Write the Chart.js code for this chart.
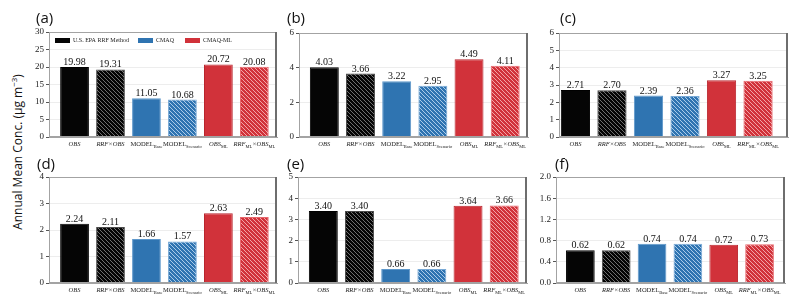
<!DOCTYPE html>
<html>
<head>
<meta charset="utf-8">
<script src="https://cdn.jsdelivr.net/npm/chart.js@4.4.1/dist/chart.umd.min.js"></script>
<style>
  body { margin: 0; background: #fff; }
  #fig { position: relative; width: 800px; height: 303px; overflow: hidden; }
  #fig canvas { position: absolute; }
  .tag { position: absolute; font-family: "Open Sans", sans-serif; font-size: 15px; line-height: 15px; color: #111; }
  #ytitle {
    position: absolute; left: -82px; top: 144px; width: 200px; height: 16px;
    font-family: "Open Sans", sans-serif; font-size: 12px; line-height: 16px; color: #111;
    text-align: center; transform: rotate(-90deg); white-space: nowrap;
  }
  #ytitle sup { font-size: 8px; line-height: 0; }
</style>
</head>
<body>
<div id="fig">
  <div id="ytitle">Annual Mean Conc. (μg m<sup>−3</sup>)</div>
</div>
<script>
// category names, "_{...}" marks a subscript
const categories = ['OBS', 'RRF×OBS', 'MODEL_{Base}', 'MODEL_{Scenario}', 'OBS_{ML}', 'RRF_{ML}×OBS_{ML}'];
const italicCats = [true, true, false, false, true, true];
const groups = ['U.S. EPA RRF Method', 'CMAQ', 'CMAQ-ML'];

// values per panel
const valuesA = [19.98, 19.31, 11.05, 10.68, 20.72, 20.08];
const valuesB = [4.03, 3.66, 3.22, 2.95, 4.49, 4.11];
const valuesC = [2.71, 2.70, 2.39, 2.36, 3.27, 3.25];
const valuesD = [2.24, 2.11, 1.66, 1.57, 2.63, 2.49];
const valuesE = [3.40, 3.40, 0.66, 0.66, 3.64, 3.66];
const valuesF = [0.62, 0.62, 0.74, 0.74, 0.72, 0.73];

// y tick labels per panel
const ticksA = [0, 5, 10, 15, 20, 25, 30];
const ticksB = [0, 2, 4, 6];
const ticksC = [0, 1, 2, 3, 4, 5, 6];
const ticksD = [0, 1, 2, 3, 4];
const ticksE = [0, 1, 2, 3, 4, 5];
const ticksF = [0, 0.4, 0.8, 1.2, 1.6, 2.0];

const groupColors = ['#050505', '#2f74b1', '#d1323a'];
const hatchColors = ['#6f6f6f', '#a9cbea', '#f3a3a6'];
const edgeColors = ['#000000', '#4a4a4a', '#5e98cb', '#78a9d6', '#b9262e', '#e8666b'];
const SERIF = '"Liberation Serif", "Times New Roman", serif';

Chart.defaults.font.family = SERIF;

const YW = 24, PT = 10, PR = 4, XH = 16;

function makeHatch(base, line) {
    const c = document.createElement('canvas');
    c.width = 4; c.height = 4;
    const g = c.getContext('2d');
    g.fillStyle = base;
    g.fillRect(0, 0, 4, 4);
    g.strokeStyle = line;
    g.lineWidth = 1;
    g.beginPath();
    g.moveTo(0, 0); g.lineTo(4, 4);
    g.moveTo(-1, 3); g.lineTo(1, 5);
    g.moveTo(3, -1); g.lineTo(5, 1);
    g.stroke();
    return g.createPattern(c, 'repeat');
}

const barFills = [];
groupColors.forEach((col, i) => {
    barFills.push(col);
    barFills.push(makeHatch(col, hatchColors[i]));
});

// box around the plot, darker right edge
const framePlugin = {
    id: 'frame',
    afterDraw(chart) {
        const { ctx, chartArea: a } = chart;
        ctx.save();
        ctx.strokeStyle = '#a3a3a3';
        ctx.lineWidth = 1;
        ctx.strokeRect(a.left + 0.5, a.top + 0.5, a.right - a.left - 1, a.bottom - a.top - 1);
        ctx.strokeStyle = '#6e6e6e';
        ctx.lineWidth = 2;
        ctx.beginPath();
        ctx.moveTo(a.right - 1, a.top);
        ctx.lineTo(a.right - 1, a.bottom);
        ctx.stroke();
        ctx.restore();
    }
};

// numbers on top of the bars
const valuePlugin = {
    id: 'values',
    afterDatasetsDraw(chart) {
        const ctx = chart.ctx;
        const ds = chart.data.datasets[0];
        ctx.save();
        ctx.font = '10px ' + SERIF;
        ctx.fillStyle = '#111';
        ctx.textAlign = 'center';
        ctx.textBaseline = 'alphabetic';
        chart.getDatasetMeta(0).data.forEach((bar, i) => {
            ctx.fillText(ds.data[i].y.toFixed(2), bar.x, bar.y - 2);
        });
        ctx.restore();
    }
};

// category labels with subscripts
const xLabelPlugin = {
    id: 'xLabels',
    afterDraw(chart) {
        const ctx = chart.ctx;
        const xs = chart.scales.x;
        const baseY = chart.chartArea.bottom + 9;
        ctx.save();
        ctx.fillStyle = '#222';
        ctx.textAlign = 'left';
        ctx.textBaseline = 'alphabetic';
        categories.forEach((cat, i) => {
            const parts = cat.split(/_\{([^}]*)\}/).filter((p, k) => p !== '' || k % 2 === 1);
            const style = italicCats[i] ? 'italic ' : '';
            const fonts = parts.map((p, k) => k % 2 === 1 ? '4.5px ' + SERIF : style + '6.5px ' + SERIF);
            let total = 0;
            const widths = parts.map((p, k) => {
                ctx.font = fonts[k];
                const w = ctx.measureText(p).width;
                total += w;
                return w;
            });
            let x = xs.getPixelForValue(i) - total / 2;
            parts.forEach((p, k) => {
                ctx.font = fonts[k];
                ctx.fillText(p, x, baseY + (k % 2 === 1 ? 1.5 : 0));
                x += widths[k];
            });
        });
        ctx.restore();
    }
};

// legend inside panel (a)
const legendPlugin = {
    id: 'inLegend',
    afterDraw(chart) {
        if (!chart.options.plugins.inLegend) return;
        const { ctx, chartArea: a } = chart;
        const offsets = [6, 89, 136];
        ctx.save();
        ctx.font = '6px ' + SERIF;
        ctx.textBaseline = 'middle';
        ctx.textAlign = 'left';
        groups.forEach((g, i) => {
            const x = a.left + offsets[i];
            const y = a.top + 6;
            ctx.fillStyle = groupColors[i];
            ctx.fillRect(x, y, 15, 5);
            ctx.fillStyle = '#222';
            ctx.fillText(g, x + 18, y + 2.5);
        });
        ctx.restore();
    }
};

function makePanel(values, ticks, geom, xRange, tag, tagPos, withLegend) {
    const [left, top, w, h] = geom;
    const fig = document.getElementById('fig');
    const canvas = document.createElement('canvas');
    canvas.width = YW + w + PR;
    canvas.height = PT + h + XH;
    canvas.style.left = (left - YW) + 'px';
    canvas.style.top = (top - PT) + 'px';
    fig.appendChild(canvas);

    const label = document.createElement('div');
    label.className = 'tag';
    label.textContent = tag;
    label.style.left = tagPos[0] + 'px';
    label.style.top = tagPos[1] + 'px';
    fig.appendChild(label);

    const decimals = ticks.some(t => !Number.isInteger(t));

    new Chart(canvas.getContext('2d'), {
        type: 'bar',
        data: {
            datasets: [{
                data: values.map((v, i) => ({ x: i, y: v })),
                backgroundColor: barFills,
                borderColor: edgeColors,
                borderWidth: 1,
                categoryPercentage: 1,
                barPercentage: 0.8
            }]
        },
        options: {
            responsive: false,
            animation: false,
            devicePixelRatio: 1,
            layout: { padding: { left: 0, top: PT, right: PR, bottom: 0 } },
            plugins: {
                legend: { display: false },
                tooltip: { enabled: false },
                inLegend: withLegend
            },
            scales: {
                x: {
                    type: 'linear',
                    offset: false,
                    min: xRange[0],
                    max: xRange[1],
                    ticks: { display: false },
                    grid: { display: false },
                    border: { color: '#a3a3a3' },
                    afterFit: s => { s.height = XH; }
                },
                y: {
                    min: ticks[0],
                    max: ticks[ticks.length - 1],
                    afterBuildTicks: s => { s.ticks = ticks.map(v => ({ value: v })); },
                    afterFit: s => { s.width = YW; },
                    ticks: {
                        font: { family: SERIF, size: 9 },
                        color: '#222',
                        padding: 2,
                        callback: v => decimals ? v.toFixed(1) : v
                    },
                    grid: { color: '#ededed', tickColor: '#555', tickLength: 3 },
                    border: { color: '#a3a3a3' }
                }
            }
        },
        plugins: [framePlugin, valuePlugin, xLabelPlugin, legendPlugin]
    });
}

makePanel(valuesA, ticksA, [49, 32, 228, 105], [-0.71, 5.63], '(a)', [36, 10], true);
makePanel(valuesB, ticksB, [299, 33, 229, 104], [-0.7, 5.63], '(b)', [287, 10], false);
makePanel(valuesC, ticksC, [559, 33, 229, 104], [-0.45, 5.82], '(c)', [560, 10], false);
makePanel(valuesD, ticksD, [49, 177, 228, 106], [-0.71, 5.63], '(d)', [37, 156], false);
makePanel(valuesE, ticksE, [298, 177, 229, 106], [-0.7, 5.63], '(e)', [287, 156], false);
makePanel(valuesF, ticksF, [556, 177, 229, 106], [-0.68, 5.71], '(f)', [555, 156], false);
</script>
</body>
</html>
